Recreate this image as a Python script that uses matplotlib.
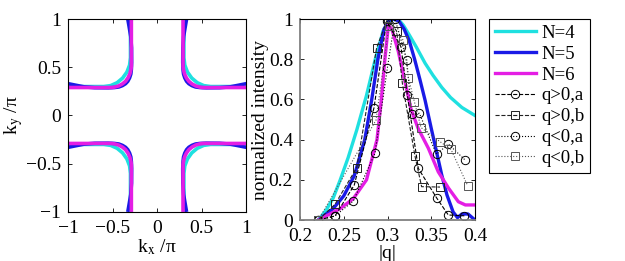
import numpy as np
import matplotlib.pyplot as plt
from matplotlib.ticker import FixedLocator

plt.rcParams['font.family'] = ['Liberation Serif', 'DejaVu Serif']
plt.rcParams['mathtext.fontset'] = 'stix'
plt.rcParams['font.size'] = 14

# ---- left panel: Fermi surface, upper-right branch (mirrored into 4 quadrants)
fs_kx = {
    'N=4': [0.30, 0.30, 0.30, 0.310, 0.340, 0.388, 0.450, 0.522, 0.60, 0.80, 1.00],
    'N=5': [0.33, 0.315, 0.297, 0.288, 0.287, 0.29, 0.296, 0.31, 0.33, 0.355, 0.39, 0.43, 0.48,
            0.55, 0.70, 0.82, 0.92, 1.00],
    'N=6': [0.29, 0.29, 0.29, 0.294, 0.307, 0.328, 0.355, 0.39, 0.432, 0.48, 0.51, 0.75, 1.00],
}
fs_ky = {
    'N=4': [1.00, 0.80, 0.60, 0.522, 0.450, 0.388, 0.340, 0.310, 0.30, 0.30, 0.30],
    'N=5': [1.00, 0.92, 0.82, 0.70, 0.55, 0.48, 0.43, 0.39, 0.355, 0.33, 0.31, 0.296, 0.29,
            0.287, 0.288, 0.297, 0.315, 0.33],
    'N=6': [1.00, 0.75, 0.51, 0.48, 0.432, 0.39, 0.355, 0.328, 0.307, 0.294, 0.29, 0.29, 0.29],
}

# ---- right panel: model curves
q_n4 = [0.221, 0.23, 0.238, 0.246, 0.255, 0.265, 0.276, 0.286, 0.295, 0.302, 0.308,
        0.313, 0.318, 0.325, 0.333, 0.343, 0.352, 0.362, 0.372, 0.385, 0.40]
i_n4 = [0.0, 0.05, 0.11, 0.20, 0.31, 0.45, 0.62, 0.80, 0.94, 0.99, 1.0,
        0.995, 0.97, 0.92, 0.86, 0.78, 0.72, 0.66, 0.61, 0.56, 0.52]
q_n5 = [0.221, 0.238, 0.250, 0.262, 0.274, 0.282, 0.289, 0.296, 0.302, 0.307, 0.313,
        0.319, 0.325, 0.331, 0.337, 0.343, 0.350, 0.356, 0.362, 0.368, 0.375, 0.38,
        0.385, 0.392, 0.40]
i_n5 = [0.0, 0.057, 0.12, 0.22, 0.40, 0.60, 0.80, 0.95, 0.995, 1.0, 0.99,
        0.95, 0.89, 0.80, 0.70, 0.595, 0.456, 0.34, 0.224, 0.124, 0.04, 0.012,
        0.03, 0.03, 0.0]
q_n6 = [0.221, 0.246, 0.261, 0.276, 0.288, 0.293, 0.297, 0.301, 0.305, 0.3124, 0.32, 0.327,
        0.335, 0.3467, 0.358, 0.37, 0.381, 0.389, 0.40]
i_n6 = [0.0, 0.057, 0.107, 0.20, 0.40, 0.60, 0.80, 0.97, 0.95, 0.838, 0.688, 0.55,
        0.456, 0.357, 0.24, 0.157, 0.091, 0.075, 0.075]

# ---- right panel: measured points
q_pa = [0.221, 0.24, 0.262, 0.2846, 0.2990, 0.3154, 0.3227, 0.3352, 0.356, 0.3695, 0.3878]
i_pa = [0.0, 0.02, 0.174, 0.559, 0.99, 0.862, 0.622, 0.257, 0.111, 0.025, 0.021]
q_pb = [0.221, 0.240, 0.2648, 0.2876, 0.300, 0.3105, 0.317, 0.3314, 0.339, 0.360]
i_pb = [0.0, 0.078, 0.26, 0.857, 1.0, 0.94, 0.68, 0.318, 0.166, 0.164]
q_na = [0.221, 0.24, 0.261, 0.2857, 0.2998, 0.3086, 0.322, 0.3276, 0.3364, 0.356, 0.3695, 0.3886]
i_na = [0.0, 0.02, 0.095, 0.332, 0.755, 1.0, 0.796, 0.526, 0.531, 0.327, 0.378, 0.299]
q_nb = [0.221, 0.2869, 0.3017, 0.318, 0.3238, 0.3307, 0.3383, 0.360, 0.3726, 0.3916]
i_nb = [0.0, 0.4975, 0.967, 0.895, 0.708, 0.589, 0.46, 0.39, 0.351, 0.171]

k_ticks = [-1, -0.5, 0, 0.5, 1]
k_ticklabels = ['\u22121', '\u22120.5', '0', '0.5', '1']
q_ticks = [0.2, 0.25, 0.3, 0.35, 0.4]
q_ticklabels = ['0.2', '0.25', '0.3', '0.35', '0.4']
i_ticks = [0, 0.2, 0.4, 0.6, 0.8, 1]
i_ticklabels = ['0', '0.2', '0.4', '0.6', '0.8', '1']

colors = {'N=4': '#1fe0e0', 'N=5': '#1a1ae6', 'N=6': '#e41ee4'}


def style_axes(ax):
    ax.tick_params(direction='in', length=3, width=0.6, top=True, right=True)
    ax.tick_params(axis='x', pad=6)
    ax.tick_params(axis='y', pad=5)


def main():
    fig = plt.figure(figsize=(6.25, 2.61), dpi=100)

    ax1 = fig.add_axes([0.109, 0.188, 0.285, 0.739])
    for name in ['N=4', 'N=5', 'N=6']:
        kx = np.array(fs_kx[name])
        ky = np.array(fs_ky[name])
        for sx in (1, -1):
            for sy in (1, -1):
                ax1.plot(sx * kx, sy * ky, color=colors[name], lw=2.6,
                         solid_capstyle='butt')
    ax1.set_xlim(-1, 1)
    ax1.set_ylim(-1, 1)
    ax1.xaxis.set_major_locator(FixedLocator(k_ticks))
    ax1.yaxis.set_major_locator(FixedLocator(k_ticks))
    ax1.set_xticklabels(k_ticklabels)
    ax1.set_yticklabels(k_ticklabels)
    ax1.set_xlabel('k$_{\\mathrm{x}}$ /\u03c0', labelpad=0)
    ax1.set_ylabel('k$_{\\mathrm{y}}$ /\u03c0', labelpad=1)
    style_axes(ax1)

    ax2 = fig.add_axes([0.48, 0.157, 0.28, 0.77])
    h4, = ax2.plot(q_n4, i_n4, color=colors['N=4'], lw=2.4)
    h5, = ax2.plot(q_n5, i_n5, color=colors['N=5'], lw=2.4)
    h6, = ax2.plot(q_n6, i_n6, color=colors['N=6'], lw=2.4)
    mk = dict(mfc='none', mew=0.7, lw=0.8)
    ha, = ax2.plot(q_pa, i_pa, '--o', color='black', ms=6, **mk)
    hb, = ax2.plot(q_pb, i_pb, '--s', color='#222222', ms=5.2, **mk)
    hc, = ax2.plot(q_na, i_na, ':o', color='black', ms=6, **mk)
    hd, = ax2.plot(q_nb, i_nb, ':s', color='#555555', ms=5.2, **mk)
    ax2.set_xlim(0.2, 0.4)
    ax2.set_ylim(0, 1)
    ax2.xaxis.set_major_locator(FixedLocator(q_ticks))
    ax2.yaxis.set_major_locator(FixedLocator(i_ticks))
    ax2.set_xticklabels(q_ticklabels)
    ax2.set_yticklabels(i_ticklabels)
    ax2.set_xlabel('|q|', labelpad=0)
    ax2.set_ylabel('normalized intensity', labelpad=0)
    ax2.spines['bottom'].set_color('#808080')
    ax2.spines['left'].set_color('#808080')
    ax2.spines['bottom'].set_linewidth(1.3)
    ax2.spines['left'].set_linewidth(1.3)
    style_axes(ax2)

    leg = fig.legend([h4, h5, h6, ha, hb, hc, hd],
                     ['N=4', 'N=5', 'N=6', 'q>0,a', 'q>0,b', 'q<0,a', 'q<0,b'],
                     loc='upper left', bbox_to_anchor=(489 / 625, 1 - 19 / 261),
                     bbox_transform=fig.transFigure, borderaxespad=0,
                     fontsize=13.5, handlelength=2.2, labelspacing=0.2,
                     handletextpad=0.3, borderpad=0.3, fancybox=False,
                     edgecolor='black', framealpha=1)
    leg.get_frame().set_linewidth(0.8)

    fig.savefig('out.png', dpi=100)


if __name__ == '__main__':
    main()
